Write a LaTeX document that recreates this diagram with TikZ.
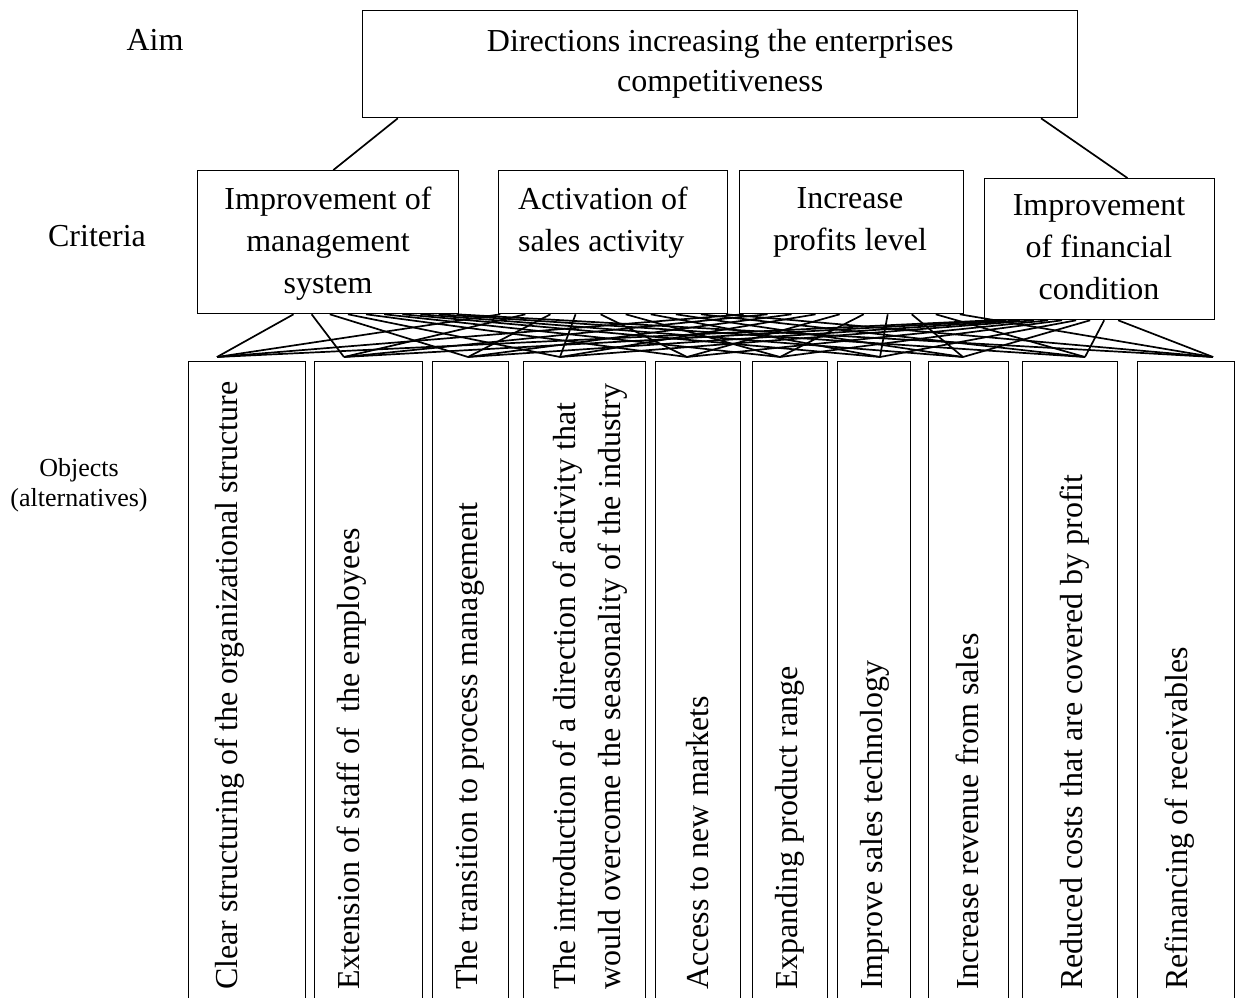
\documentclass[tikz,border=0pt]{standalone}
\usepackage{fontspec}
\setmainfont{Liberation Serif}
\usetikzlibrary{calc}
\begin{document}
\begin{tikzpicture}[x=1pt,y=-1pt,
  box/.style={draw, line width=1.3pt, inner sep=0pt, anchor=north west},
  link/.style={line width=1.7pt},
  crittext/.style={inner sep=0pt, anchor=north, align=center, font=\fontsize{32}{42}\selectfont},
  alttext/.style={inner sep=0pt, rotate=90, anchor=west, align=left, font=\fontsize{32}{45}\selectfont},
  sidelabel/.style={inner sep=0pt, anchor=base, font=\fontsize{32}{38}\selectfont}]
\useasboundingbox (0,0) rectangle (1235,998);

% Aim
\node[box, minimum width=715pt, minimum height=107pt] (aim) at (362,10) {};
\node[inner sep=0pt, align=center, font=\fontsize{32}{40}\selectfont] (aimt) at (aim.center)
  {Directions increasing the enterprises\\competitiveness};
\node[sidelabel] (aiml) at (155,51) {Aim};
\node[sidelabel] (critl) at (97,246) {Criteria};
\node[inner sep=0pt, anchor=north, align=center, font=\fontsize{26}{30}\selectfont] (objl) at (79,458)
  {Objects\\(alternatives)};

% Criteria
\node[box, minimum width=261pt, minimum height=143pt] (c1) at (197,170) {};
\node[box, minimum width=229pt, minimum height=143pt] (c2) at (498,170) {};
\node[box, minimum width=224pt, minimum height=143pt] (c3) at (739,170) {};
\node[box, minimum width=230pt, minimum height=141pt] (c4) at (984,178) {};
\node[crittext] (c1t) at (328,187) {Improvement of\\management\\system};
\node[crittext, align=left] (c2t) at (603,187) {Activation of\\sales activity};
\node[crittext] (c3t) at (850,187.5) {Increase\\profits level};
\node[crittext] (c4t) at (1099,194) {Improvement\\of financial\\condition};

\draw[link] ($(aim.south west)!0.05!(aim.south east)$) coordinate (aimL) -- ($(c1.north west)!0.52!(c1.north east)$) coordinate (c1top);
\draw[link] ($(aim.south west)!0.948!(aim.south east)$) coordinate (aimR) -- ($(c4.north west)!0.62!(c4.north east)$) coordinate (c4top);

% Alternatives
\foreach \n/\l/\r in {1/188/305, 2/314/422, 3/432/508, 4/523/645, 5/655/740,
                     6/752/827, 7/837/910, 8/928/1008, 9/1022/1117, 10/1137/1234}{
  \node[box, minimum width={(\r-\l)*1pt}, minimum height=650pt] (a\n) at (\l,361) {};
}
\node[alttext] (a1t) at (230,990) {Clear structuring of the organizational structure};
\node[alttext] (a2t) at (352,990) {Extension of staff of \ the employees};
\node[alttext] (a3t) at (470,990) {The transition to process management};
\node[alttext] (a4t) at (590,990) {The introduction of a direction of activity that\\would overcome the seasonality of the industry};
\node[alttext] (a5t) at (698,990) {Access to new markets};
\node[alttext] (a6t) at (790,990) {Expanding product range};
\node[alttext] (a7t) at (875,990) {Improve sales technology};
\node[alttext] (a8t) at (967,990) {Increase revenue from sales};
\node[alttext] (a9t) at (1075,990) {Reduced costs that are covered by profit};
\node[alttext] (a10t) at (1180,990) {Refinancing of receivables};

% connection points above alternatives
\foreach \n/\x in {1/217, 2/344, 3/468, 4/560, 5/687, 6/780, 7/880, 8/963, 9/1085, 10/1213}{
  \coordinate (p\n) at (\x,357);
}
% criteria -> alternatives (complete bipartite)
\foreach \i/\a/\b in {1/0.368/0.99, 2/0.01/0.99, 3/0.02/0.98, 4/0.035/0.58}{
  \foreach \j in {1,...,10}{
    \coordinate (o\i-\j) at ($(c\i.south west)!{\a+(\b-\a)*(\j-1)/9}!(c\i.south east)$);
    \draw[link] (o\i-\j) -- (p\j);
  }
}
\end{tikzpicture}
\end{document}
